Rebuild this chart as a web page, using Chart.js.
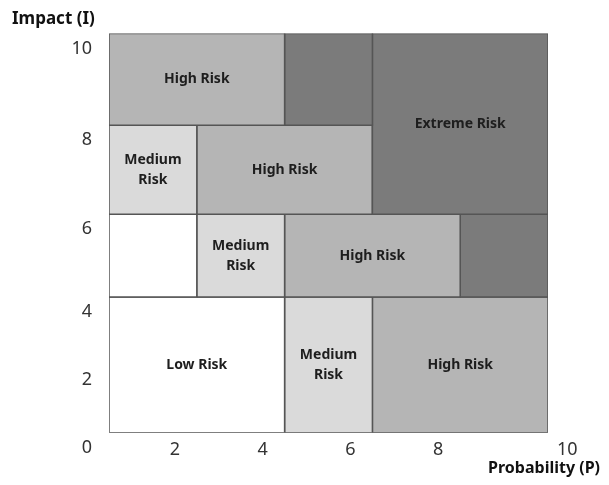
<!DOCTYPE html>
<html>
<head>
<meta charset="utf-8">
<script src="https://cdn.jsdelivr.net/npm/chart.js@4.4.1/dist/chart.umd.min.js"></script>
<style>
    html, body { margin: 0; padding: 0; background: #fff; }
    #wrap { width: 609px; height: 485px; }
</style>
</head>
<body>
<div id="wrap"><canvas id="matrix"></canvas></div>
<script>
// Risk matrix cells: probability range (x) and impact range (y)

const riskLevel  = ['High', 'Extreme', 'Extreme', 'Medium', 'High', 'Low', 'Medium', 'High', 'Extreme', 'Low', 'Medium', 'High'];
const probFrom   = [0, 4, 6, 0, 2, 0, 2, 4, 8, 0, 4, 6];
const probTo     = [4, 6, 10, 2, 6, 2, 4, 8, 10, 4, 6, 10];
const impactFrom = [8, 8, 6, 6, 6, 4, 4, 4, 4, 0, 0, 0];
const impactTo   = [10, 10, 10, 8, 8, 6, 6, 6, 6, 4, 4, 4];
const cellLabels = [
    ['High Risk'], [], ['Extreme Risk'],
    ['Medium', 'Risk'], ['High Risk'],
    [], ['Medium', 'Risk'], ['High Risk'], [],
    ['Low Risk'], ['Medium', 'Risk'], ['High Risk']
];

const xTicks = [0, 2, 4, 6, 8, 10];
const yTicks = [0, 2, 4, 6, 8, 10];

// look
const levelColor = {
    Low: '#ffffff',
    Medium: '#dadada',
    High: '#b5b5b5',
    Extreme: '#7b7b7b'
};
const FONT = '"Noto Sans", "DejaVu Sans", sans-serif';

// impact rows are not equally tall in the drawing: value -> share of axis height
const impactBands = [[0, 0], [4, 0.34], [6, 0.5475], [8, 0.77], [10, 1]];

function bandToDecimal(v) {
    for (let i = 1; i < impactBands.length; i++) {
        const [v0, d0] = impactBands[i - 1];
        const [v1, d1] = impactBands[i];
        if (v <= v1 || i === impactBands.length - 1) {
            return d0 + (v - v0) / (v1 - v0) * (d1 - d0);
        }
    }
    return 0;
}

function decimalToBand(d) {
    for (let i = 1; i < impactBands.length; i++) {
        const [v0, d0] = impactBands[i - 1];
        const [v1, d1] = impactBands[i];
        if (d <= d1 || i === impactBands.length - 1) {
            return v0 + (d - d0) / (d1 - d0) * (v1 - v0);
        }
    }
    return 0;
}

class BandedScale extends Chart.LinearScale {
    getPixelForValue(value) {
        if (value === null || isNaN(value)) return NaN;
        return this.getPixelForDecimal(bandToDecimal(value));
    }
    getValueForPixel(pixel) {
        return decimalToBand(this.getDecimalForPixel(pixel));
    }
}
BandedScale.id = 'banded';
BandedScale.defaults = Chart.LinearScale.defaults;
Chart.register(BandedScale);

// one closed outline per cell, filled inside
let datasets = riskLevel.map((lvl, i) => ({
    data: [
        { x: probFrom[i], y: impactFrom[i] },
        { x: probTo[i],   y: impactFrom[i] },
        { x: probTo[i],   y: impactTo[i] },
        { x: probFrom[i], y: impactTo[i] },
        { x: probFrom[i], y: impactFrom[i] }
    ],
    showLine: true,
    fill: 'shape',
    backgroundColor: levelColor[lvl],
    borderColor: '#555555',
    borderWidth: 1.5,
    pointRadius: 0,
    tension: 0
}));

// text in the middle of each cell
const cellText = {
    id: 'cellText',
    afterDatasetsDraw(chart) {
        const { ctx } = chart;
        const x = chart.scales.x;
        const y = chart.scales.y;
        ctx.save();
        ctx.font = 'bold 14px ' + FONT;
        ctx.fillStyle = '#1e1e1e';
        ctx.textAlign = 'center';
        ctx.textBaseline = 'middle';
        cellLabels.forEach((lines, i) => {
            let cx = (x.getPixelForValue(probFrom[i]) + x.getPixelForValue(probTo[i])) / 2;
            let cy = (y.getPixelForValue(impactFrom[i]) + y.getPixelForValue(impactTo[i])) / 2;
            lines.forEach((t, k) => {
                ctx.fillText(t, cx, cy + (k - (lines.length - 1) / 2) * 20);
            });
        });
        ctx.restore();
    }
};

let matrix = new Chart(document.getElementById('matrix'), {
    type: 'scatter',
    data: { datasets: datasets },
    plugins: [cellText],
    options: {
        responsive: true,
        maintainAspectRatio: false,
        animation: false,
        events: [],
        layout: { padding: { left: 12, right: 9, top: 0, bottom: 0 } },
        plugins: {
            legend: { display: false },
            tooltip: { enabled: false },
            title: {
                display: true,
                text: 'Impact (I)',
                align: 'start',
                color: '#111',
                font: { family: FONT, size: 17, weight: 'bold', lineHeight: 1.2 },
                padding: { top: 9, bottom: 4 }
            },
            subtitle: {
                display: true,
                position: 'bottom',
                text: 'Probability (P)',
                align: 'end',
                color: '#111',
                font: { family: FONT, size: 16, weight: 'bold', lineHeight: 1.2 },
                padding: { top: 0, bottom: 7 }
            }
        },
        scales: {
            x: {
                type: 'linear',
                min: 0,
                max: 10,
                afterBuildTicks: s => { s.ticks = xTicks.map(v => ({ value: v })); },
                afterFit: s => { s.height = 26; },
                grid: { display: false, drawTicks: false },
                border: { display: false },
                ticks: {
                    autoSkip: false,
                    maxRotation: 0,
                    labelOffset: -22,
                    padding: 8,
                    color: '#333',
                    font: { family: FONT, size: 18, lineHeight: 1 },
                    // 0 is shared with the impact axis; 10 sits past the corner
                    callback: v => v === 0 ? '' : (v === 10 ? '\u2007'.repeat(8) + '10' : String(v))
                }
            },
            y: {
                type: 'banded',
                min: 0,
                max: 10,
                afterBuildTicks: s => { s.ticks = yTicks.map(v => ({ value: v })); },
                afterFit: s => { s.width = 97; },
                grid: { display: false, drawTicks: false },
                border: { display: false },
                ticks: {
                    labelOffset: 15,
                    padding: 17,
                    color: '#333',
                    font: { family: FONT, size: 18 }
                }
            },
            yRight: {
                type: 'linear',
                position: 'right',
                display: true,
                afterFit: s => { s.width = 52; },
                grid: { display: false, drawTicks: false },
                border: { display: false },
                ticks: { display: false }
            }
        }
    }
});
</script>
</body>
</html>
